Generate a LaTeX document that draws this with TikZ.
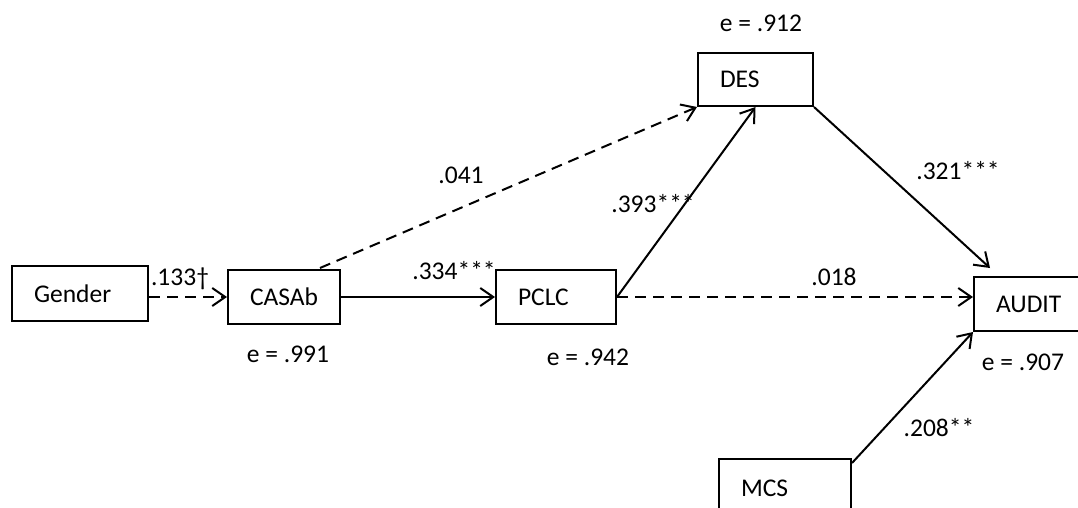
\documentclass[tikz,border=0pt]{standalone}
\usepackage{fontspec}
\setmainfont{Carlito}
\usetikzlibrary{arrows.meta,calc}
\begin{document}
\begin{tikzpicture}[x=1pt,y=-1pt,
  box/.style={draw,line width=2pt,rectangle,anchor=north west,inner xsep=22pt,inner ysep=0pt,align=left,font=\fontsize{25.5}{30}\selectfont},
  lbl/.style={font=\fontsize{25.5}{30}\selectfont,inner sep=0pt},
  arr/.style={line width=2pt,-{Straight Barb[length=13pt,width=18pt]}},
  dsh/.style={arr,dash pattern=on 11pt off 7pt}]
\useasboundingbox (0,0) rectangle (1078,508);
\clip (0,0) rectangle (1078,508);
% boxes
\node[box,text width=92pt,minimum height=55pt] (gender) at (11,265) {Gender};
\node[box,text width=68pt,minimum height=54pt] (casab) at (227,269) {CASAb};
\node[box,text width=76pt,minimum height=54pt] (pclc) at (495,269) {PCLC};
\node[box,text width=71pt,minimum height=53pt] (des) at (697,52) {DES};
\node[box,text width=76pt,minimum height=54pt] (audit) at (973,276) {AUDIT};
\node[box,text width=88pt,minimum height=58pt] (mcs) at (718,458) {MCS};
% helper coordinates
\coordinate (c1) at ($(casab.north east)+(-21,-1)$);
\coordinate (a1) at ($(audit.north west)+(17,-8)$);
\coordinate (m1) at ($(mcs.north east)+(0,5)$);
% connectors
\draw[dsh] (gender.east |- casab.west) -- (casab.west);
\draw[arr] (casab.east) -- (pclc.west);
\draw[dsh] (c1) -- (des.south west);
\draw[arr] (pclc.east) -- (des.south);
\draw[dsh] (pclc.east) -- (pclc.east -| audit.west);
\draw[arr] (des.south east) -- (a1);
\draw[arr] (m1) -- (audit.south west);
% labels
\node[lbl] (l1) at (180,279) {.133†};
\node[lbl] (e1) at (288,354) {e = .991};
\node[lbl] (l2) at (454,271) {.334***};
\node[lbl] (l3) at (461,175) {.041};
\node[lbl] (l4) at (653,204) {.393***};
\node[lbl] (e2) at (761,23) {e = .912};
\node[lbl] (l5) at (958,171) {.321***};
\node[lbl] (l6) at (834,277) {.018};
\node[lbl] (e3) at (588,357) {e = .942};
\node[lbl] (e4) at (1023,362) {e = .907};
\node[lbl] (l7) at (939,428) {.208**};
\end{tikzpicture}
\end{document}
